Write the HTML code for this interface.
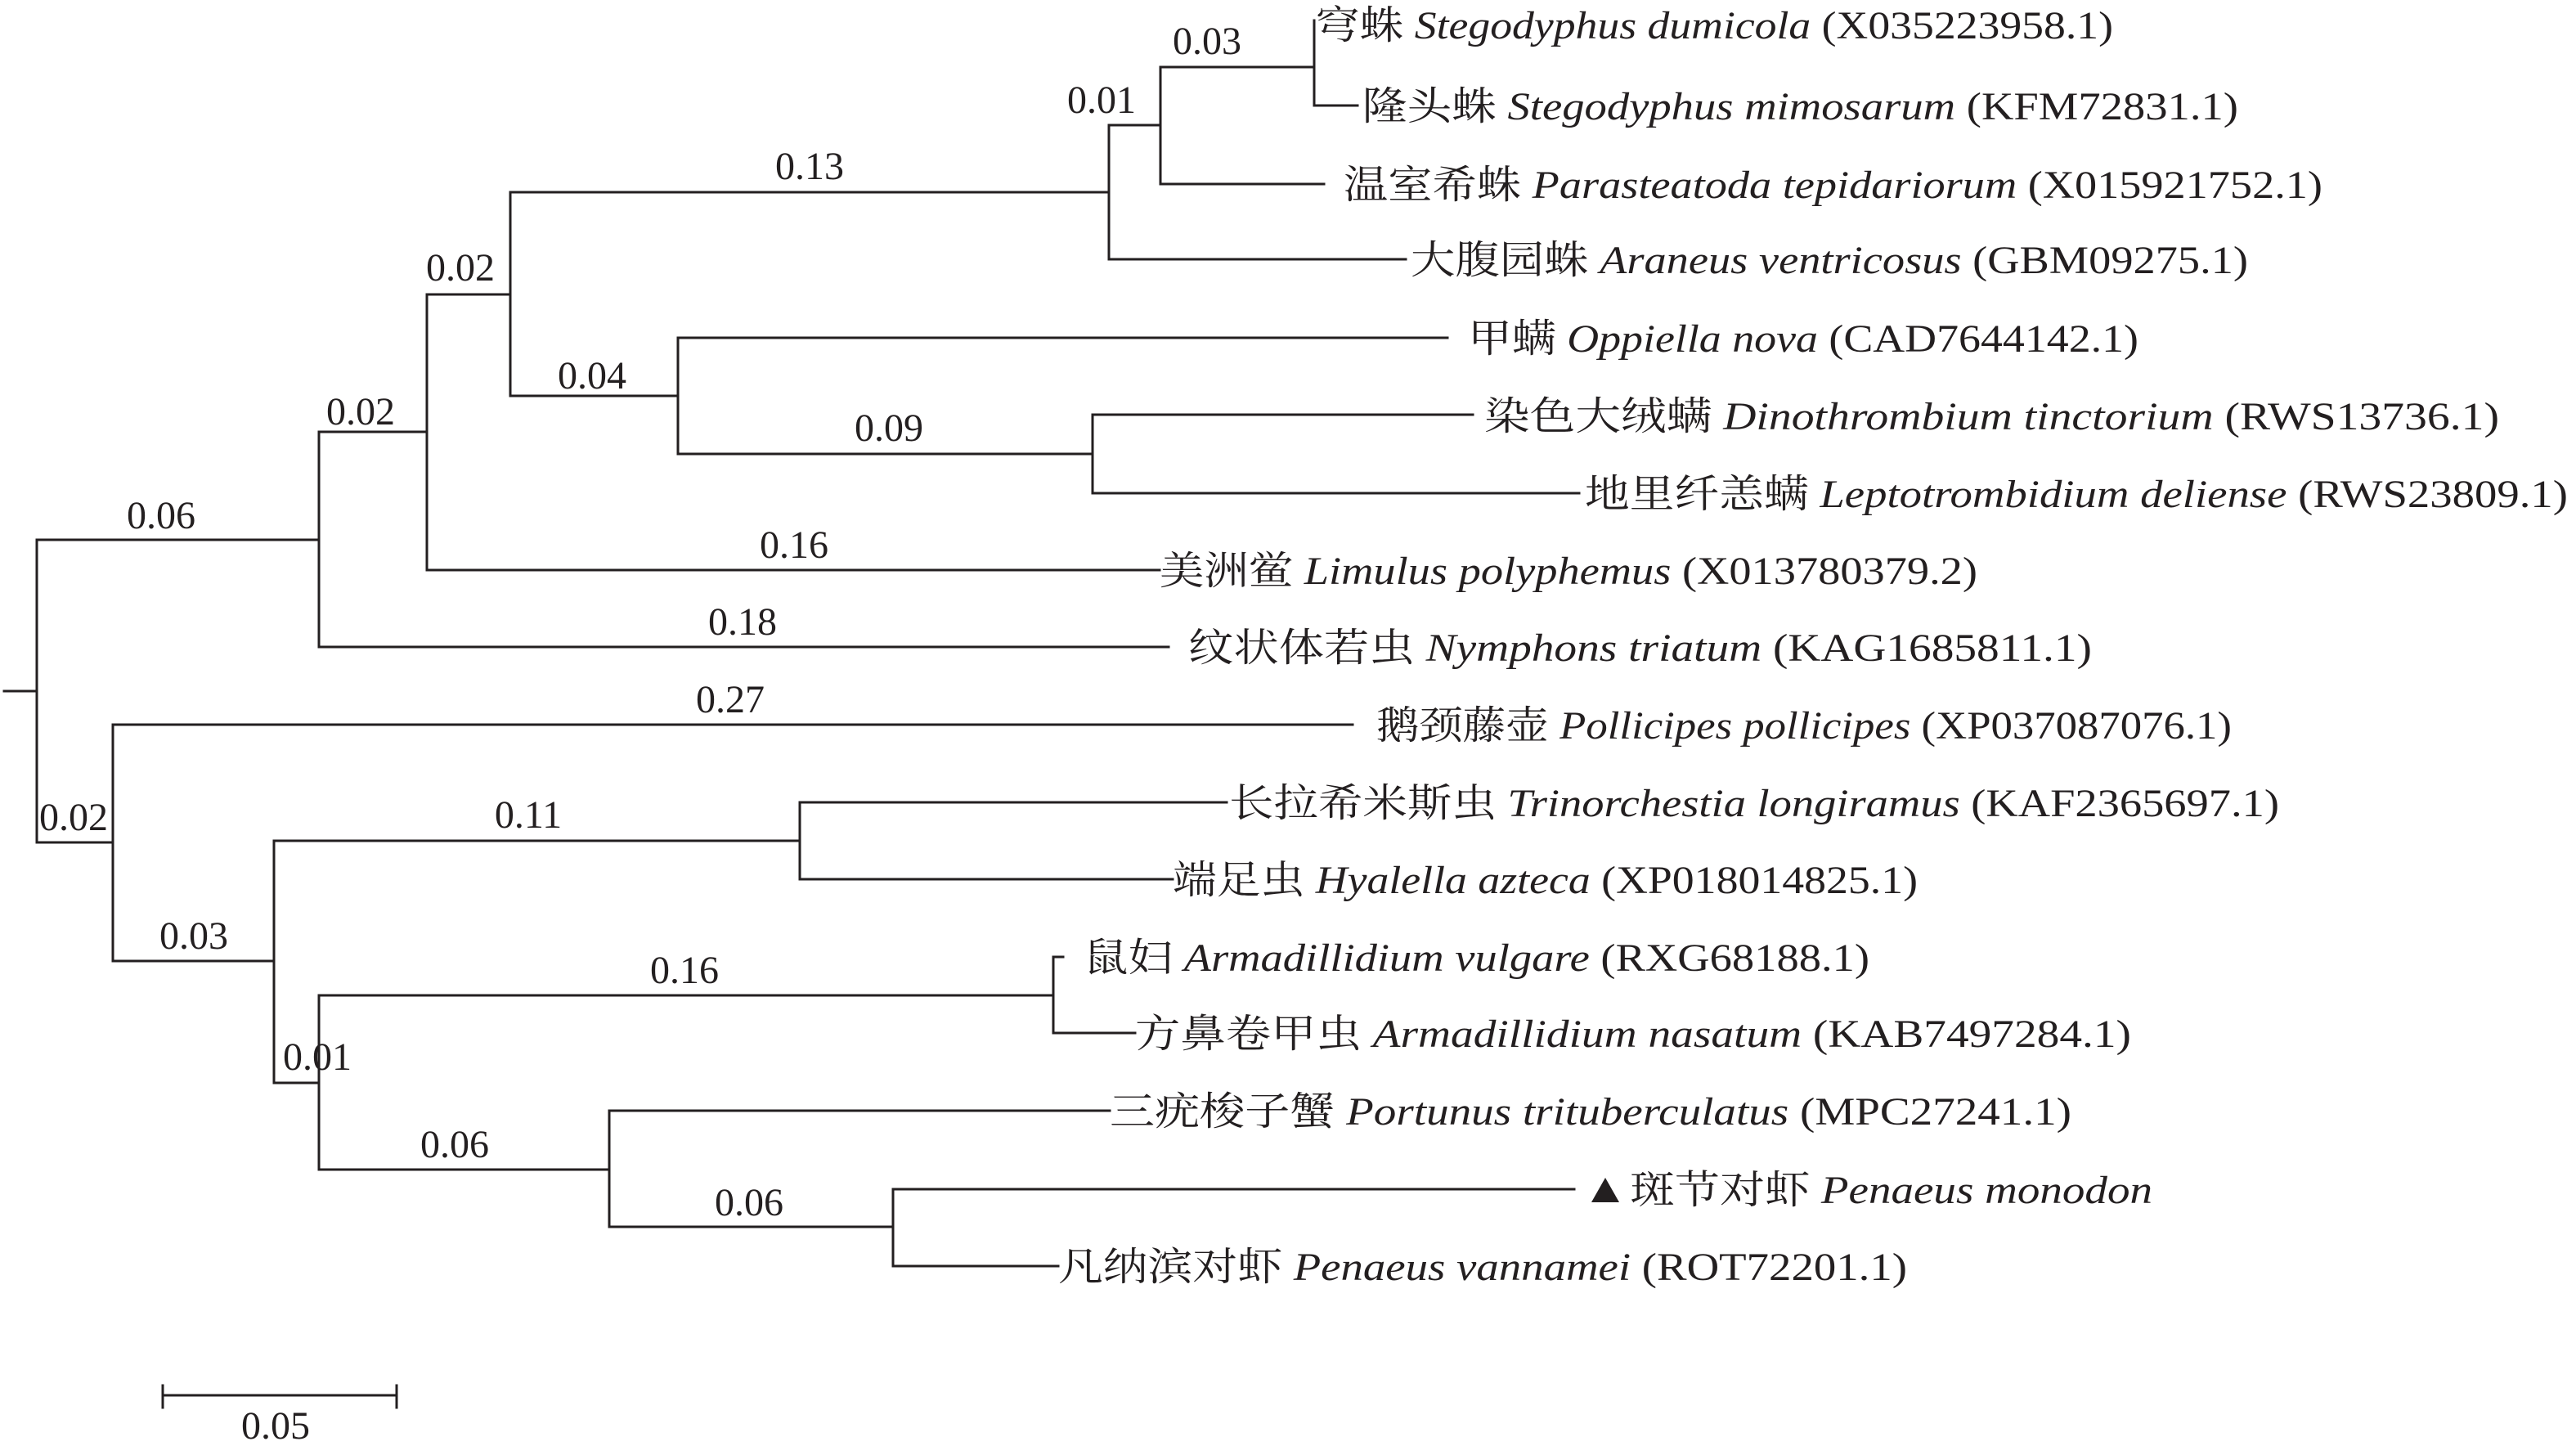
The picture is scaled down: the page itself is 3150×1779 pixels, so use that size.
<!DOCTYPE html>
<html><head><meta charset="utf-8"><style>
html,body{margin:0;padding:0;background:#fff;}
svg{display:block;}
text{font-family:"Liberation Serif","Noto Serif CJK SC","Noto Sans CJK SC",serif;font-size:48px;fill:#231f20;}
.i{font-style:italic;}
</style></head><body>
<svg width="3150" height="1779" viewBox="0 0 3150 1779" xmlns="http://www.w3.org/2000/svg">
<g stroke="#231f20" stroke-width="3" fill="none" stroke-linecap="square">
<path d="M5 845H45M45 660V1030"/>
<path d="M45 660H390M390 528V791M390 791H1429"/>
<path d="M390 528H522M522 360V697M522 697H1418"/>
<path d="M522 360H624M624 235V484"/>
<path d="M624 235H1356M1356 153V317M1356 317H1719"/>
<path d="M1356 153H1419M1419 82V225M1419 225H1619"/>
<path d="M1419 82H1607M1607 25V129M1607 129H1660"/>
<path d="M624 484H829M829 413V555M829 413H1770"/>
<path d="M829 555H1336M1336 507V603M1336 507H1801M1336 603H1931"/>
<path d="M45 1030H138M138 886V1175M138 886H1654"/>
<path d="M138 1175H335M335 1028V1324"/>
<path d="M335 1028H978M978 981V1075M978 981H1500M978 1075H1434"/>
<path d="M335 1324H390M390 1217V1430"/>
<path d="M390 1217H1288M1288 1170V1263M1288 1170H1300M1288 1263H1388"/>
<path d="M390 1430H745M745 1358V1500M745 1358H1357"/>
<path d="M745 1500H1092M1092 1454V1548M1092 1454H1925M1092 1548H1294"/>
<path d="M199 1706H485M199 1694V1721M485 1694V1721"/>
</g>
<polygon points="1946,1470 1963,1440 1980,1470" fill="#231f20"/>
<g text-anchor="middle">
<text x="1476" y="66">0.03</text>
<text x="1347" y="138">0.01</text>
<text x="990" y="219">0.13</text>
<text x="563" y="343">0.02</text>
<text x="724" y="475">0.04</text>
<text x="441" y="519">0.02</text>
<text x="1087" y="539">0.09</text>
<text x="197" y="646">0.06</text>
<text x="971" y="682">0.16</text>
<text x="908" y="776">0.18</text>
<text x="893" y="871">0.27</text>
<text x="90" y="1015">0.02</text>
<text x="646" y="1012">0.11</text>
<text x="237" y="1160">0.03</text>
<text x="837" y="1202">0.16</text>
<text x="388" y="1308">0.01</text>
<text x="556" y="1415">0.06</text>
<text x="916" y="1486">0.06</text>
<text x="337" y="1759">0.05</text>
</g>
<g>
<text x="1609" y="47" textLength="975" lengthAdjust="spacingAndGlyphs">穹蛛 <tspan class="i">Stegodyphus dumicola</tspan> (X035223958.1)</text>
<text x="1666" y="146" textLength="1071" lengthAdjust="spacingAndGlyphs">隆头蛛 <tspan class="i">Stegodyphus mimosarum</tspan> (KFM72831.1)</text>
<text x="1643" y="242" textLength="1197" lengthAdjust="spacingAndGlyphs">温室希蛛 <tspan class="i">Parasteatoda tepidariorum</tspan> (X015921752.1)</text>
<text x="1725" y="334" textLength="1024" lengthAdjust="spacingAndGlyphs">大腹园蛛 <tspan class="i">Araneus ventricosus</tspan> (GBM09275.1)</text>
<text x="1795" y="430" textLength="820" lengthAdjust="spacingAndGlyphs">甲螨 <tspan class="i">Oppiella nova</tspan> (CAD7644142.1)</text>
<text x="1815" y="525" textLength="1241" lengthAdjust="spacingAndGlyphs">染色大绒螨 <tspan class="i">Dinothrombium tinctorium</tspan> (RWS13736.1)</text>
<text x="1938" y="620" textLength="1202" lengthAdjust="spacingAndGlyphs">地里纤恙螨 <tspan class="i">Leptotrombidium deliense</tspan> (RWS23809.1)</text>
<text x="1418" y="714" textLength="1000" lengthAdjust="spacingAndGlyphs">美洲鲎 <tspan class="i">Limulus polyphemus</tspan> (X013780379.2)</text>
<text x="1453" y="808" textLength="1105" lengthAdjust="spacingAndGlyphs">纹状体若虫 <tspan class="i">Nymphons triatum</tspan> (KAG1685811.1)</text>
<text x="1683" y="903" textLength="1046" lengthAdjust="spacingAndGlyphs">鹅颈藤壶 <tspan class="i">Pollicipes pollicipes</tspan> (XP037087076.1)</text>
<text x="1503" y="998" textLength="1284" lengthAdjust="spacingAndGlyphs">长拉希米斯虫 <tspan class="i">Trinorchestia longiramus</tspan> (KAF2365697.1)</text>
<text x="1434" y="1092" textLength="911" lengthAdjust="spacingAndGlyphs">端足虫 <tspan class="i">Hyalella azteca</tspan> (XP018014825.1)</text>
<text x="1325" y="1187" textLength="961" lengthAdjust="spacingAndGlyphs">鼠妇 <tspan class="i">Armadillidium vulgare</tspan> (RXG68188.1)</text>
<text x="1388" y="1280" textLength="1218" lengthAdjust="spacingAndGlyphs">方鼻卷甲虫 <tspan class="i">Armadillidium nasatum</tspan> (KAB7497284.1)</text>
<text x="1357" y="1375" textLength="1176" lengthAdjust="spacingAndGlyphs">三疣梭子蟹 <tspan class="i">Portunus trituberculatus</tspan> (MPC27241.1)</text>
<text x="1993" y="1471" textLength="639" lengthAdjust="spacingAndGlyphs">斑节对虾 <tspan class="i">Penaeus monodon</tspan></text>
<text x="1294" y="1565" textLength="1038" lengthAdjust="spacingAndGlyphs">凡纳滨对虾 <tspan class="i">Penaeus vannamei</tspan> (ROT72201.1)</text>
</g>
</svg>
</body></html>
